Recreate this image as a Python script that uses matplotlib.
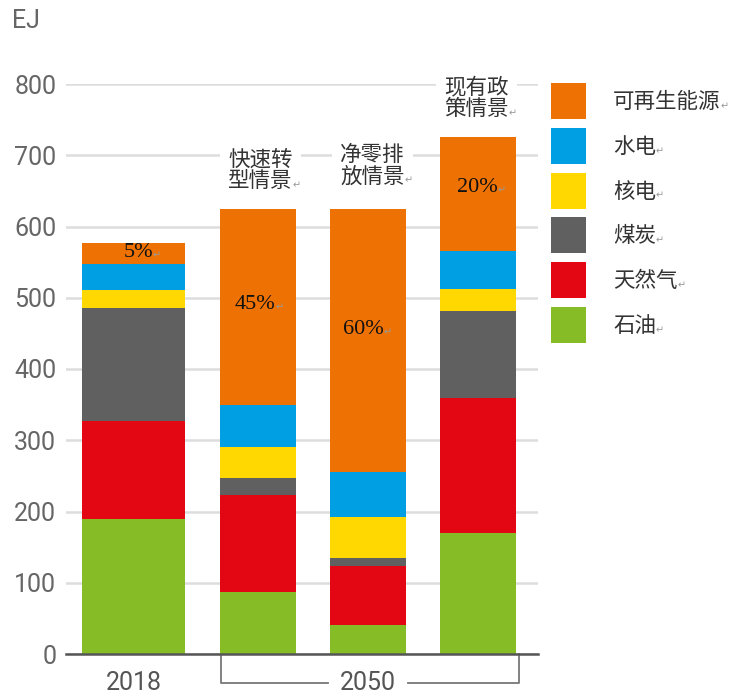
import matplotlib
matplotlib.use('Agg')
import matplotlib.pyplot as plt
from matplotlib.patches import Rectangle

plt.rcParams['font.family'] = ['Roboto', 'Noto Sans CJK SC', 'DejaVu Sans']

# data (EJ)
categories = ['2018', '快速转型情景', '净零排放情景', '现有政策情景']
scenario_labels = ['快速转\n型情景', '净零排\n放情景', '现有政\n策情景']
oil = [190, 87, 41, 170]
gas = [137, 136, 82, 189]
coal = [159, 24, 12, 122]
nuclear = [25, 43, 57, 31]
hydro = [36, 59, 63, 54]
renew = [30, 275, 370, 160]
renew_share = ['5%', '45%', '60%', '20%']

series_names = ['石油', '天然气', '煤炭', '核电', '水电', '可再生能源']
series = [oil, gas, coal, nuclear, hydro, renew]
colors = ['#86BC25', '#E30613', '#606060', '#FED800', '#009FE3', '#EE7203']

yticks = [0, 100, 200, 300, 400, 500, 600, 700, 800]

W, H = 730, 699
xpos = [-0.13, 1.0, 2.0, 3.0]
widths = [0.94, 0.69, 0.69, 0.69]
CJK = ['Noto Sans CJK SC', 'DejaVu Sans']
SERIF = ['Liberation Serif', 'DejaVu Serif']
marked = []  # texts that get a small return mark after them

fig = plt.figure(figsize=(W / 100, H / 100), dpi=100)
ax = fig.add_axes([66 / W, 45 / H, 472 / W, 570 / H])

bottom = [0, 0, 0, 0]
for vals, c in zip(series, colors):
    ax.bar(xpos, vals, width=widths, bottom=bottom, color=c, zorder=3)
    bottom = [b + v for b, v in zip(bottom, vals)]

ax.set_xlim(-0.745, 3.545)
ax.set_ylim(0, 800)
ax.set_yticks(yticks)
ax.set_xticks([])
ax.grid(axis='y', color='#dddddd', linewidth=1.8, zorder=0)
ax.tick_params(axis='y', length=0, pad=7, labelsize=18, labelcolor='#666666')
for s in ['top', 'right', 'left']:
    ax.spines[s].set_visible(False)
ax.spines['bottom'].set_color('#555555')
ax.spines['bottom'].set_linewidth(1.8)
ax.spines['bottom'].set_zorder(4)

fig.text(12 / W, 1 - 21 / H, 'EJ', fontsize=18, color='#666666', va='center')

# year labels and bracket
ax.text(xpos[0], -40, categories[0], ha='center', va='center', fontsize=18,
        color='#555555', clip_on=False)
ax.text(2.0, -40, '2050', ha='center', va='center', fontsize=18,
        color='#555555', clip_on=False)
kw = dict(color='#777777', linewidth=1.3, clip_on=False)
ax.plot([0.665, 0.665, 1.64], [0, -40, -40], **kw)
ax.plot([2.36, 3.37, 3.37], [-40, -40, 0], **kw)

# scenario labels
label_pos = [(0.727, 679), (1.745, 685), (2.69, 780)]
for lab, (x, y) in zip(scenario_labels, label_pos):
    t = ax.text(x, y, lab, ha='left', va='center', fontsize=15.5, family=CJK,
                linespacing=0.95, color='#333333', zorder=5,
                bbox=dict(facecolor='white', edgecolor='none', pad=6))
    marked.append(t)

# renewable shares
share_pos = [(-0.09, 563), (0.97, 490), (1.96, 455), (2.99, 655)]
for lab, (x, y) in zip(renew_share, share_pos):
    t = ax.text(x, y, lab, ha='center', va='center', fontsize=16,
                family=SERIF, color='#111111', zorder=5)
    marked.append(t)

# legend, top to bottom
pitch = 44.8
for i, (name, c) in enumerate(zip(series_names[::-1], colors[::-1])):
    top = 83 + i * pitch
    fig.add_artist(Rectangle((551 / W, 1 - (top + 36) / H), 35 / W, 36 / H,
                             transform=fig.transFigure, facecolor=c,
                             edgecolor='none'))
    t = fig.text(613 / W, 1 - (top + 19) / H, name, va='center', ha='left',
                 fontsize=15.5, family=CJK, color='#333333')
    marked.append(t)

# small grey return marks, placed once text sizes are known
fig.canvas.draw()
r = fig.canvas.get_renderer()
for t in marked:
    bb = t.get_window_extent(r)
    fig.text(bb.x1 / W, (bb.y0 + 2) / H, '↵', ha='left', va='bottom',
             fontsize=7, color='#999999', family=['DejaVu Sans'], zorder=10)

fig.savefig('out.png', dpi=100)
